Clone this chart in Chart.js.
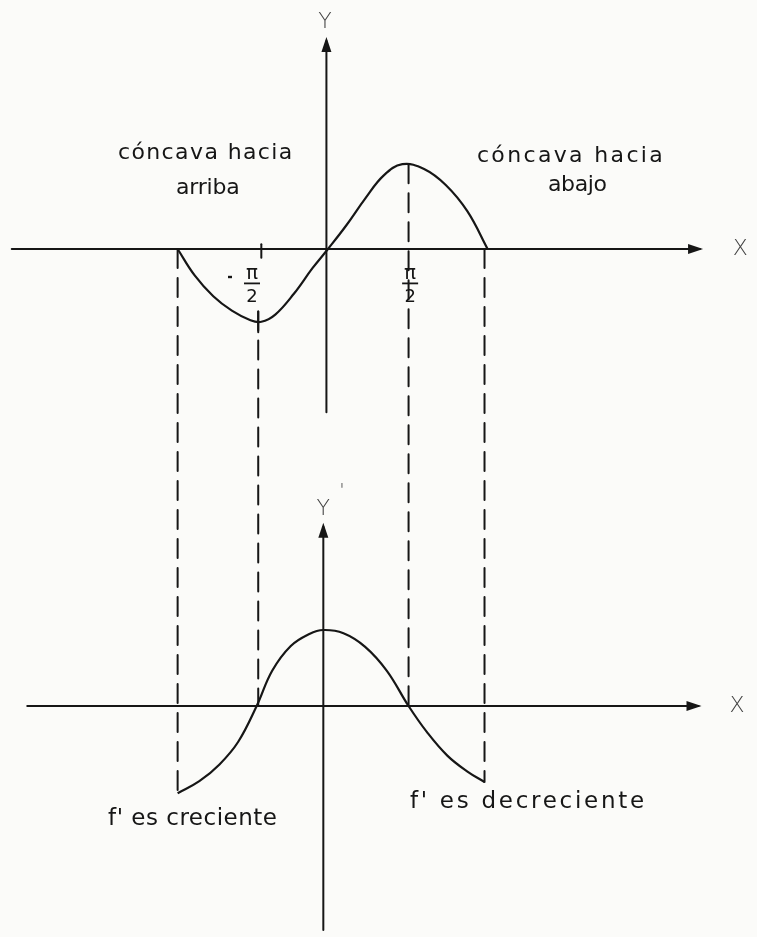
<!DOCTYPE html>
<html>
<head>
<meta charset="utf-8">
<script src="https://cdn.jsdelivr.net/npm/chart.js@4"></script>
<style>
  html, body { margin: 0; padding: 0; background: #fbfbf9; }
  #wrap { width: 757px; height: 937px; }
</style>
</head>
<body>
<div id="wrap"><canvas id="chart" width="757" height="937"></canvas></div>
<script>
// x in units of pi, y in units of the drawn amplitude
// f(x) = sen x  (upper graph)
const fX = [-0.97, -0.86, -0.74, -0.62, -0.50, -0.43, -0.34, -0.22, -0.10, 0.00,
            0.12, 0.24, 0.36, 0.48, 0.62, 0.76, 0.90, 1.03];
const fY = [0.00, -0.33, -0.59, -0.77, -0.89, -0.91, -0.82, -0.56, -0.24, 0.00,
            0.30, 0.63, 0.92, 1.06, 1.00, 0.80, 0.47, 0.00];

// f'(x) = cos x  (lower graph)
const dfX = [-0.97, -0.83, -0.70, -0.58, -0.46, -0.36, -0.24, -0.12, -0.03,
             0.10, 0.24, 0.38, 0.52, 0.64, 0.77, 0.90, 1.01];
const dfY = [-1.09, -0.94, -0.73, -0.45, 0.00, 0.44, 0.75, 0.90, 0.95,
             0.91, 0.74, 0.44, 0.00, -0.33, -0.62, -0.82, -0.95];

// dashed guides: x, end on upper curve, end on lower curve
const guideX       = [-0.97, -0.45, 0.52, 1.01];
const guideTopY    = [0.00, -0.78, 1.06, 0.00];
const guideBottomY = [-1.09, 0.00, 0.00, -0.95];

// tick labels on the upper x axis
const tickX = [-0.49, 0.53];
const tickLabels = ['-π/2', 'π/2'];

const INK = '#161616';

function pts(xs, ys) { return xs.map((x, i) => ({ x, y: ys[i] })); }

function arrow(ctx, x0, y0, x1, y1) {
  const a = Math.atan2(y1 - y0, x1 - x0), len = 15, w = 5;
  ctx.beginPath();
  ctx.moveTo(x1, y1);
  ctx.lineTo(x1 - len*Math.cos(a) + w*Math.sin(a), y1 - len*Math.sin(a) - w*Math.cos(a));
  ctx.lineTo(x1 - len*Math.cos(a) - w*Math.sin(a), y1 - len*Math.sin(a) + w*Math.cos(a));
  ctx.closePath();
  ctx.fill();
}

// stretch or squeeze a word to span x0..x1 like the hand lettering
function fitText(ctx, s, x0, x1, yb, size) {
  ctx.font = size + 'px "DejaVu Sans"';
  ctx.letterSpacing = '0px';
  const w = ctx.measureText(s).width;
  const ls = (x1 - x0 - w) / Math.max(1, s.length - 1);
  ctx.letterSpacing = ls + 'px';
  ctx.textAlign = 'left';
  ctx.textBaseline = 'alphabetic';
  ctx.fillText(s, x0, yb);
  ctx.letterSpacing = '0px';
}

const sketch = {
  id: 'sketch',
  beforeDatasetsDraw(chart) {
    const { ctx, scales: { x, y, y2 } } = chart;
    const X = v => x.getPixelForValue(v), Y = v => y.getPixelForValue(v), Y2 = v => y2.getPixelForValue(v);
    ctx.save();
    ctx.strokeStyle = INK; ctx.fillStyle = INK; ctx.lineCap = 'round';

    // axes
    ctx.lineWidth = 2;
    ctx.beginPath(); ctx.moveTo(X(-2.04), Y(0)); ctx.lineTo(X(2.40), Y(0)); ctx.stroke();
    arrow(ctx, X(-2.04), Y(0), X(2.42), Y(0));
    ctx.beginPath(); ctx.moveTo(X(-0.01), Y(-2.04)); ctx.lineTo(X(-0.01), Y(2.60)); ctx.stroke();
    arrow(ctx, X(-0.01), Y(-2.04), X(-0.01), Y(2.65));
    ctx.beginPath(); ctx.moveTo(X(-1.94), Y2(0)); ctx.lineTo(X(2.39), Y2(0)); ctx.stroke();
    arrow(ctx, X(-1.94), Y2(0), X(2.41), Y2(0));
    ctx.beginPath(); ctx.moveTo(X(-0.03), Y2(-2.8)); ctx.lineTo(X(-0.03), Y2(2.24)); ctx.stroke();
    arrow(ctx, X(-0.03), Y2(-2.8), X(-0.03), Y2(2.29));

    // small ticks at -pi/2
    ctx.beginPath(); ctx.moveTo(X(-0.43), Y(0.06)); ctx.lineTo(X(-0.43), Y(-0.11)); ctx.stroke();
    ctx.beginPath(); ctx.moveTo(X(-0.45), Y(-0.78)); ctx.lineTo(X(-0.45), Y(-1.04)); ctx.stroke();

    // dashed guides joining both graphs
    ctx.setLineDash([19, 10]);
    guideX.forEach((gx, i) => {
      ctx.beginPath();
      ctx.moveTo(X(gx), Y(guideTopY[i]));
      ctx.lineTo(X(gx), Y2(guideBottomY[i]));
      ctx.stroke();
    });
    ctx.setLineDash([]);
    ctx.restore();
  },
  afterDatasetsDraw(chart) {
    const { ctx, scales: { x, y, y2 } } = chart;
    const X = v => x.getPixelForValue(v), Y = v => y.getPixelForValue(v), Y2 = v => y2.getPixelForValue(v);
    ctx.save();
    ctx.fillStyle = INK; ctx.strokeStyle = INK;

    // captions
    fitText(ctx, 'cóncava hacia', X(-1.355), X(-0.23), Y(1.12), 22);
    fitText(ctx, 'arriba', X(-0.98), X(-0.57), Y(0.69), 22);
    fitText(ctx, 'cóncava hacia', X(0.961), X(2.16), Y(1.09), 22);
    fitText(ctx, 'abajo', X(1.419), X(1.80), Y(0.72), 22);
    fitText(ctx, "f' es creciente", X(-1.419), X(-0.329), Y2(-1.49), 23);
    fitText(ctx, "f' es decreciente", X(0.529), X(2.04), Y2(-1.275), 23);

    // axis names
    ctx.fillStyle = '#444';
    ctx.font = '200 22px "DejaVu Sans"';
    ctx.textAlign = 'center';
    ctx.fillText('Y', X(-0.02), Y(2.76));
    ctx.fillText('X', X(2.66), Y(-0.08));
    ctx.fillText('Y', X(-0.03), Y2(2.39));
    ctx.fillText('X', X(2.64), Y2(-0.075));
    ctx.font = '200 18px "DejaVu Sans"';
    ctx.fillText("'", X(0.09), Y2(2.62));

    // fraction tick labels
    ctx.fillStyle = INK; ctx.lineWidth = 1.8;
    tickLabels.forEach((lab, i) => {
      const cx = X(tickX[i]);
      ctx.font = '20px "DejaVu Sans"';
      ctx.fillText('π', cx, Y(-0.37));
      ctx.beginPath(); ctx.moveTo(cx - 8, Y(-0.43)); ctx.lineTo(cx + 8, Y(-0.43)); ctx.stroke();
      ctx.font = '18px "DejaVu Sans"';
      ctx.fillText('2', cx, Y(-0.66));
      if (lab.startsWith('-')) {
        ctx.lineWidth = 2.4;
        ctx.beginPath(); ctx.moveTo(cx - 24, Y(-0.35)); ctx.lineTo(cx - 20, Y(-0.35)); ctx.stroke();
        ctx.lineWidth = 1.8;
      }
    });
    ctx.restore();
  }
};

const curve = (data, axis) => ({
  data, yAxisID: axis, showLine: true, borderColor: INK, borderWidth: 2.2,
  pointRadius: 0, tension: 0.4, fill: false
});

new Chart(document.getElementById('chart'), {
  type: 'scatter',
  data: { datasets: [curve(pts(fX, fY), 'y'), curve(pts(dfX, dfY), 'y2')] },
  options: {
    responsive: false,
    animation: false,
    layout: { padding: 0 },
    plugins: { legend: { display: false }, tooltip: { enabled: false } },
    scales: {
      x:  { type: 'linear', display: false, min: -2.116, max: 2.768 },
      y:  { type: 'linear', display: false, min: -8.6, max: 3.1125 },
      y2: { type: 'linear', display: false, min: -2.8875, max: 8.825 }
    }
  },
  plugins: [sketch]
});
</script>
</body>
</html>
